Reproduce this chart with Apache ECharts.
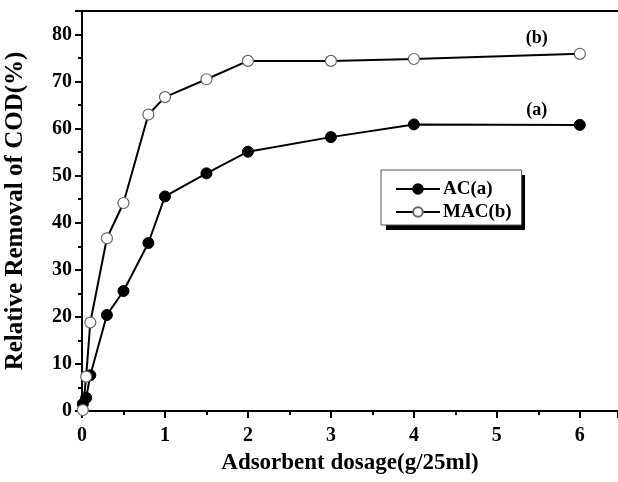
<!DOCTYPE html>
<html>
<head>
<meta charset="utf-8">
<script src="https://cdn.jsdelivr.net/npm/echarts@6/dist/echarts.min.js"></script>
<style>
html, body { margin: 0; padding: 0; background: #fff; }
#chart { width: 618px; height: 482px; }
</style>
</head>
<body>
<div id="chart"></div>
<script>
// dosage (g/25ml) and removal of COD (%)
var dosageAC = [0.01, 0.05, 0.1, 0.3, 0.5, 0.8, 1, 1.5, 2, 3, 4, 6];
var removalAC = [1.5, 2.8, 7.6, 20.4, 25.5, 35.7, 45.6, 50.5, 55.1, 58.2, 60.9, 60.8];
var dosageMAC = [0.01, 0.05, 0.1, 0.3, 0.5, 0.8, 1, 1.5, 2, 3, 4, 6];
var removalMAC = [0.2, 7.3, 18.8, 36.7, 44.2, 63.0, 66.7, 70.5, 74.4, 74.4, 74.8, 75.9];
var seriesNames = ['AC(a)', 'MAC(b)'];
var endLabels = ['(a)', '(b)'];

var font = 'Liberation Serif';

function pairs(xs, ys) {
	var out = [];
	for (var i = 0; i < xs.length; i++) {
		out.push([xs[i], ys[i]]);
	}
	return out;
}

function endLabel(text) {
	// 曲线末端的 (a)/(b) 标注
	return {
		show : true,
		position : 'top',
		offset : [ -43, 5 ],
		formatter : text,
		fontFamily : font,
		fontWeight : 'bold',
		fontSize : 18,
		color : '#000'
	};
}

var dataAC = pairs(dosageAC, removalAC);
var dataMAC = pairs(dosageMAC, removalMAC);
dataAC[dataAC.length - 1] = { value : dataAC[dataAC.length - 1], label : endLabel(endLabels[0]) };
dataMAC[dataMAC.length - 1] = { value : dataMAC[dataMAC.length - 1], label : endLabel(endLabels[1]) };

var myChart = echarts.init(document.getElementById('chart'));

var axisLine = { show : true, onZero : false, lineStyle : { color : '#000', width : 2 } };

option = {
	animation : false,
	backgroundColor : '#fff',
	grid : {
		left : 82,
		right : 0,
		top : 11,
		bottom : 71,
		containLabel : false,
		outerBoundsMode : 'none'
	},
	// 图例的阴影
	graphic : [ {
		type : 'rect',
		left : 386,
		top : 175,
		shape : { width : 139, height : 55 },
		style : { fill : '#000' },
		z : 0
	} ],
	legend : {
		orient : 'vertical',
		left : 381,
		top : 170,
		width : 115,
		padding : [ 9, 10, 3, 14 ],
		itemGap : 3,
		itemWidth : 44,
		itemHeight : 12,
		backgroundColor : '#fff',
		borderColor : '#555',
		borderWidth : 1,
		z : 10,
		textStyle : {
			fontFamily : font,
			fontWeight : 'bold',
			fontSize : 19,
			lineHeight : 20,
			color : '#000',
			padding : [ 0, 0, 0, -2 ]
		},
		data : seriesNames
	},
	xAxis : [ {
		type : 'value',
		min : 0,
		max : 6.46,
		interval : 1,
		name : 'Adsorbent dosage(g/25ml)',
		nameLocation : 'middle',
		nameGap : 41,
		nameTextStyle : {
			fontFamily : font,
			fontWeight : 'bold',
			fontSize : 23,
			color : '#000'
		},
		axisLine : axisLine,
		axisTick : { show : true, length : 7, lineStyle : { color : '#000', width : 2 } },
		minorTick : { show : true, splitNumber : 2, length : 4, lineStyle : { color : '#000', width : 2 } },
		splitLine : { show : false },
		axisLabel : {
			fontFamily : font,
			fontWeight : 'bold',
			fontSize : 20,
			color : '#000',
			margin : 15,
			showMaxLabel : false
		}
	}, {
		// 上边框
		type : 'value',
		position : 'top',
		min : 0,
		max : 6.46,
		axisLine : axisLine,
		axisTick : { show : false },
		axisLabel : { show : false },
		splitLine : { show : false }
	} ],
	yAxis : {
		type : 'value',
		min : 0,
		max : 85,
		interval : 10,
		name : 'Relative Removal of COD(%)',
		nameLocation : 'middle',
		nameGap : 54,
		nameTextStyle : {
			fontFamily : font,
			fontWeight : 'bold',
			fontSize : 25,
			color : '#000'
		},
		axisLine : axisLine,
		axisTick : { show : true, length : 7, lineStyle : { color : '#000', width : 2 } },
		minorTick : { show : true, splitNumber : 2, length : 4, lineStyle : { color : '#000', width : 2 } },
		splitLine : { show : false },
		axisLabel : {
			fontFamily : font,
			fontWeight : 'bold',
			fontSize : 20,
			color : '#000',
			margin : 10,
			showMaxLabel : false
		}
	},
	series : [ {
		name : seriesNames[0],
		type : 'line',
		data : dataAC,
		symbol : 'circle',
		symbolSize : 11,
		color : '#000',
		lineStyle : { color : '#000', width : 2 },
		itemStyle : { color : '#000', borderColor : '#000', borderWidth : 1 },
		z : 3
	}, {
		name : seriesNames[1],
		type : 'line',
		data : dataMAC,
		symbol : 'circle',
		symbolSize : 11,
		color : '#000',
		lineStyle : { color : '#000', width : 2 },
		itemStyle : { color : '#fff', borderColor : '#666', borderWidth : 1.2 },
		z : 4
	} ]
};

myChart.setOption(option);
</script>
</body>
</html>
